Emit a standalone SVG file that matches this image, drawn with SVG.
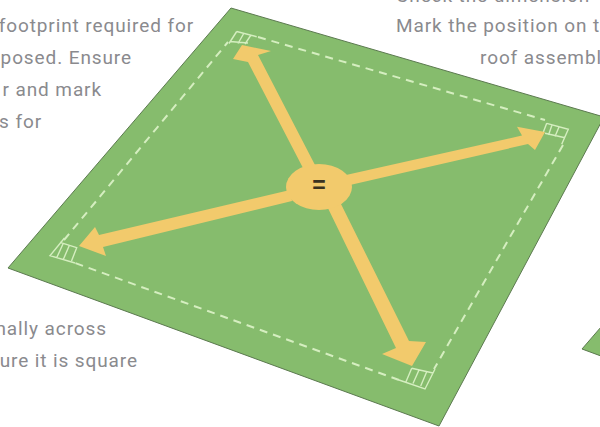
<svg xmlns="http://www.w3.org/2000/svg" width="600" height="427" viewBox="0 0 600 427">
<style>
.t{font-family:"Roboto","Liberation Sans",sans-serif;font-size:19px;fill:#8a8a8e;letter-spacing:.9px}
.sheet{fill:#86bc6d;stroke:#5c7a50;stroke-width:1}
.dash{fill:none;stroke:#d5eec0;stroke-width:2;stroke-dasharray:8 6}
.box{fill:none;stroke:#d5eec0;stroke-width:1.4}
.arrow{fill:#f2ca6c}
</style>
<rect width="600" height="427" fill="#fff"/>
<g id="sheet"><polygon class="sheet" points="231,8 604,117 439,426 8,268"/></g>
<g id="small-sheet"><polygon class="sheet" points="601,327 582,349 601,356"/></g>
<g id="connectors">
<path class="dash" d="M258,37 L545,120"/>
<path class="dash" d="M563,145 L434,369"/>
<path class="dash" d="M399,380 L75,263"/>
<path class="dash" d="M64,240 L228,42"/>
</g>
<g id="corner-top">
<path class="box" d="M236.700,31.500 L256.700,36.700 M236.700,31.500 L229,43.500 M230,41.500 L248,43 M244,33 L238,43.500 M251,35 L245,44"/>
</g>
<g id="corner-right">
<path class="box" d="M546.700,123.300 L568.300,129.300 L561.700,144.300 M545,133.300 L565,137.700 M552,125 L548.500,135 M559,127 L555,136.500 M546.700,123.300 L543,133"/>
</g>
<g id="corner-bottom">
<path class="box" d="M411.700,368.300 L433,373 M435,369 L425,389 L399,380 M411.700,368.300 L406,381.700 M419,370 L413,383.500 M426.700,371.700 L420.700,386"/>
</g>
<g id="corner-left">
<path class="box" d="M60,242.300 L76.700,247.700 L71.500,261 M64.500,238 L50,255.700 L75,263 M63.300,243.300 L56.700,257.700 M69.300,245.500 L63.300,259.500"/>
</g>
<g id="arrows">
<polygon class="arrow" points="242,45 271,51 258,55 315,165 303,168 248,62 233,59"/>
<polygon class="arrow" points="545,132 517,126.700 522,135.500 346,175 350,185 528,144 535,150"/>
<polygon class="arrow" points="79,246 95,227 99,235 290,190 292,201 103,247 106,256"/>
<polygon class="arrow" points="412,366 382,354 396,348 324,200 339,200 409,341 426,342"/>
<ellipse class="arrow" cx="319" cy="187" rx="33" ry="23"/>
</g>
<g id="equals"><text x="319" y="193" text-anchor="middle" font-family="Liberation Sans, sans-serif" font-size="23" font-weight="700" fill="#3a3220">=</text></g>
<g id="labels">
<text class="t" x="194" y="32" text-anchor="end">footprint required for</text>
<text class="t" x="132" y="64" text-anchor="end">posed. Ensure</text>
<text class="t" x="102" y="96" text-anchor="end">r and mark</text>
<text class="t" x="42" y="128" text-anchor="end">s for</text>
<text class="t" x="107" y="335" text-anchor="end">nally across</text>
<text class="t" x="138" y="367" text-anchor="end">ure it is square</text>
<text class="t" x="396" y="2">Check the dimension</text>
<text class="t" x="396" y="32">Mark the position on t</text>
<text class="t" x="480" y="64">roof assembl</text>
</g>
</svg>
